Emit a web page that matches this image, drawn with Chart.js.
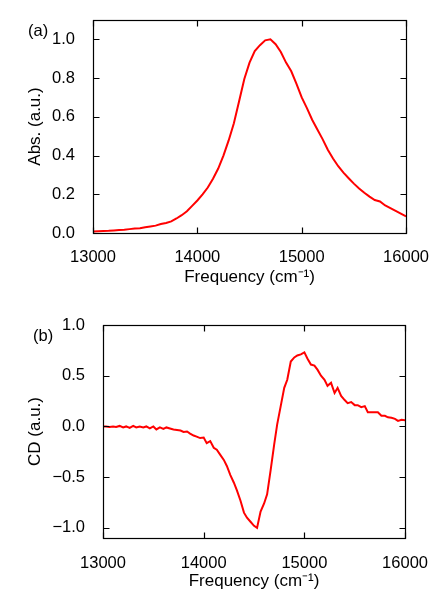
<!DOCTYPE html>
<html>
<head>
<meta charset="utf-8">
<script src="https://cdn.jsdelivr.net/npm/chart.js@4"></script>
<style>
  body { margin: 0; background: #fff; }
  #wrap { position: relative; width: 436px; height: 610px; }
  canvas { position: absolute; left: 0; }
</style>
</head>
<body>
<div id="wrap">
  <canvas id="abs" width="436" height="300" style="top:0"></canvas>
  <canvas id="cd" width="436" height="310" style="top:300px"></canvas>
</div>
<script>
// absorption spectrum, panel (a)
var absFreq = [13000,13050,13100,13150,13200,13250,13300,13350,13400,13450,
  13500,13550,13600,13650,13700,13750,13800,13850,13900,13950,
  14000,14050,14100,14150,14200,14250,14300,14350,14400,14450,
  14500,14550,14600,14650,14700,14750,14800,14850,14900,14950,
  15000,15050,15100,15150,15200,15250,15300,15350,15400,15450,
  15500,15550,15600,15650,15700,15750,15800,15850,15900,15950,16000];
var absVals = [0.008,0.009,0.010,0.011,0.013,0.015,0.017,0.020,0.023,0.025,
  0.030,0.034,0.038,0.046,0.052,0.060,0.075,0.092,0.112,0.140,
  0.168,0.200,0.235,0.280,0.333,0.400,0.478,0.567,0.680,0.795,
  0.880,0.940,0.970,0.995,1.000,0.975,0.935,0.880,0.835,0.770,
  0.700,0.645,0.585,0.535,0.485,0.430,0.385,0.345,0.312,0.283,
  0.255,0.230,0.208,0.188,0.170,0.163,0.142,0.128,0.114,0.100,0.086];

// circular dichroism, panel (b)
var cdFreq = [13000,13030,13065,13100,13130,13165,13200,13230,13265,13300,
  13330,13365,13400,13430,13465,13500,13530,13565,13600,13630,
  13665,13700,13735,13770,13800,13835,13865,13900,13930,13965,
  14000,14030,14065,14100,14130,14165,14200,14230,14265,14300,
  14330,14365,14400,14430,14465,14500,14530,14565,14600,14630,
  14665,14700,14730,14765,14800,14830,14865,14900,14930,14965,
  15000,15030,15065,15100,15130,15165,15200,15230,15265,15300,
  15330,15365,15400,15430,15465,15500,15530,15565,15600,15630,
  15665,15700,15730,15765,15800,15830,15865,15900,15930,15965,16000];
var cdVals = [0.00,0.00,-0.005,0.00,-0.005,0.005,-0.01,0.00,-0.015,0.005,
  -0.01,0.00,-0.01,0.00,-0.02,0.00,-0.03,-0.01,-0.025,-0.01,
  -0.02,-0.03,-0.035,-0.04,-0.055,-0.05,-0.07,-0.09,-0.10,-0.115,
  -0.11,-0.165,-0.145,-0.21,-0.23,-0.28,-0.33,-0.39,-0.48,-0.555,
  -0.63,-0.73,-0.85,-0.90,-0.94,-0.98,-1.00,-0.84,-0.76,-0.67,
  -0.43,-0.18,0.02,0.20,0.38,0.46,0.64,0.68,0.70,0.71,
  0.73,0.67,0.61,0.60,0.56,0.50,0.46,0.40,0.43,0.33,
  0.38,0.30,0.26,0.23,0.24,0.21,0.21,0.19,0.20,0.14,
  0.14,0.14,0.14,0.105,0.105,0.09,0.085,0.075,0.055,0.065,0.06];

var FONT = '"Liberation Sans", Arial, Helvetica, sans-serif';

function toPoints(xs, ys) {
  var pts = [];
  for (var i = 0; i < xs.length; i++) pts.push({x: xs[i], y: ys[i]});
  return pts;
}

// box around the plot with inward ticks on all four sides, plus panel letter
var framePlugin = {
  id: 'frame',
  afterDraw: function(chart, args, opts) {
    var ctx = chart.ctx, a = chart.chartArea;
    var sx = chart.scales.x, sy = chart.scales.y;
    var L = Math.round(a.left) + 0.5, R = Math.round(a.right) + 0.5;
    var T = Math.round(a.top) + 0.5, B = Math.round(a.bottom) + 0.5;
    ctx.save();
    ctx.strokeStyle = '#000';
    ctx.lineWidth = 1.2;
    ctx.strokeRect(L, T, R - L, B - T);
    ctx.beginPath();
    sx.ticks.forEach(function(t) {
      var px = Math.round(sx.getPixelForValue(t.value)) + 0.5;
      ctx.moveTo(px, B); ctx.lineTo(px, B - 6);
      ctx.moveTo(px, T); ctx.lineTo(px, T + 6);
    });
    sy.ticks.forEach(function(t) {
      var py = Math.round(sy.getPixelForValue(t.value)) + 0.5;
      ctx.moveTo(L, py); ctx.lineTo(L + 6, py);
      ctx.moveTo(R, py); ctx.lineTo(R - 6, py);
    });
    ctx.stroke();
    ctx.fillStyle = '#000';
    ctx.font = '16.5px ' + FONT;
    ctx.textBaseline = 'middle';
    ctx.textAlign = 'left';
    ctx.fillText(opts.label, opts.lx, opts.ly);
    ctx.restore();
  }
};

function makeChart(id, xs, ys, cfg) {
  return new Chart(document.getElementById(id), {
    type: 'scatter',
    data: {
      datasets: [{
        data: toPoints(xs, ys),
        showLine: true,
        borderColor: '#ff0000',
        borderWidth: 2,
        pointRadius: 0,
        tension: 0
      }]
    },
    options: {
      responsive: false,
      animation: false,
      devicePixelRatio: 1,
      layout: { padding: { left: 25, right: 26, top: cfg.top, bottom: 0 } },
      plugins: {
        legend: { display: false },
        tooltip: { enabled: false },
        frame: { label: cfg.label, lx: cfg.lx, ly: cfg.ly }
      },
      scales: {
        x: {
          type: 'linear',
          min: 13000, max: 16000,
          grid: { display: false },
          border: { display: false },
          ticks: {
            stepSize: 1000,
            color: '#000',
            padding: cfg.xpad,
            maxRotation: 0,
            font: { family: FONT, size: 16.5 },
            callback: function(v) { return String(v); }
          },
          title: {
            display: true,
            text: 'Frequency (cm\u207B\u00B9)',
            color: '#000',
            font: { family: FONT, size: 17 },
            padding: { top: 0, bottom: cfg.xtitle }
          },
          afterFit: function(s) { s.height = cfg.xh; }
        },
        y: {
          type: 'linear',
          min: cfg.ymin, max: cfg.ymax,
          grid: { display: false },
          border: { display: false },
          ticks: {
            stepSize: cfg.ystep,
            includeBounds: false,
            color: '#000',
            padding: 10,
            font: { family: FONT, size: 16.5 },
            callback: function(v) {
              var s = Math.abs(v).toFixed(1);
              return v < -1e-9 ? '\u2212' + s : s;
            }
          },
          title: {
            display: true,
            text: cfg.ytitle,
            color: '#000',
            font: { family: FONT, size: 17 },
            padding: { top: 0, bottom: 0 }
          },
          afterFit: function(s) { s.width = cfg.yw; }
        }
      }
    },
    plugins: [framePlugin]
  });
}

makeChart('abs', absFreq, absVals, {
  top: 20, xh: 67, yw: 68, xpad: 7, xtitle: 12,
  ymin: 0, ymax: 1.1, ystep: 0.2,
  ytitle: 'Abs. (a.u.)', label: '(a)', lx: 28, ly: 31
});

makeChart('cd', cdFreq, cdVals, {
  top: 25, xh: 72, yw: 78, xpad: 8, xtitle: 18,
  ymin: -1.1, ymax: 1.0, ystep: 0.5,
  ytitle: 'CD (a.u.)', label: '(b)', lx: 33, ly: 36
});
</script>
</body>
</html>
